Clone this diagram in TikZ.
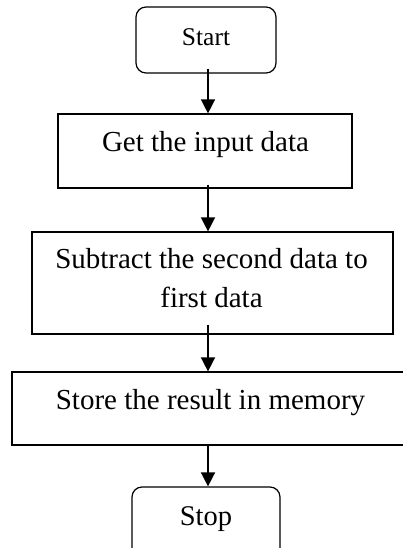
\documentclass[tikz,border=0pt]{standalone}
\usepackage{fontspec}
\setmainfont{Liberation Serif}
\usetikzlibrary{arrows.meta}

\tikzset{
  box/.style={draw, line width=1.2pt, inner sep=0pt},
  roundbox/.style={box, rounded corners=10pt},
  txt/.style={anchor=base, inner sep=0pt, font=\fontsize{29}{38}\selectfont},
  flow/.style={line width=1.5pt, -{Triangle[length=14pt,width=14pt]}}
}

\begin{document}
\begin{tikzpicture}[x=1pt,y=-1pt]
  \useasboundingbox (0,0) rectangle (403,548);
  \clip (0,0) rectangle (403,548);

  % shared vertical line of the connectors
  \coordinate (axis) at (208,0);

  % boxes (corner to corner)
  \node[roundbox, minimum width=140pt, minimum height=66pt] (start) at (206,40) {};
  \node[box, minimum width=294pt, minimum height=74pt] (get) at (205,151) {};
  \node[box, minimum width=361pt, minimum height=102pt] (sub) at (212.5,283) {};
  \node[box, minimum width=396pt, minimum height=73pt] (store) at (210,408.5) {};
  \node[roundbox, minimum width=148pt, minimum height=80pt] (stop) at (206,527) {};

  % texts
  \node[txt, font=\fontsize{25.5}{30}\selectfont] (tstart) at (206,46) {Start};
  \node[txt] (tget) at (205.5,152) {Get the input data};
  \node[txt] (tsub1) at (211.5,268) {Subtract the second data to};
  \node[txt] (tsub2) at (211.5,307) {first data};
  \node[txt] (tstore) at (210.5,409) {Store the result in memory};
  \node[txt, font=\fontsize{28.5}{34}\selectfont] (tstop) at (206,525) {Stop};

  % connectors
  \draw[flow] ([yshift=5pt]start.south -| axis) -- (get.north -| axis);
  \draw[flow] ([yshift=4pt]get.south -| axis) -- (sub.north -| axis);
  \draw[flow] ([yshift=10pt]sub.south -| axis) -- (store.north -| axis);
  \draw[flow] ([yshift=1pt]store.south -| axis) -- (stop.north -| axis);
\end{tikzpicture}
\end{document}
